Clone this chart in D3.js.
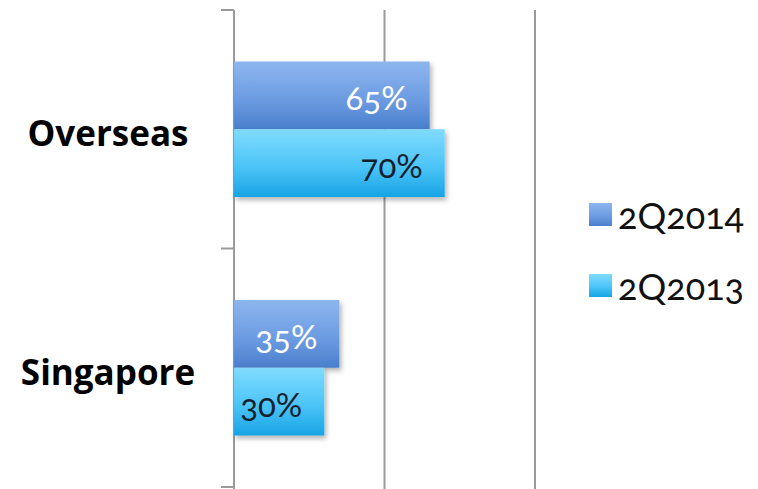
<!DOCTYPE html>
<html><head><meta charset="utf-8">
<script src="https://cdn.jsdelivr.net/npm/d3@7"></script>
<style>
body{margin:0;background:#fff;}
svg{display:block;}
</style></head>
<body><svg id="c" width="758" height="489"></svg>
<script>
const categories = ["Overseas", "Singapore"];
const seriesNames = ["2Q2014", "2Q2013"];
const values2Q2014 = [0.65, 0.35];
const values2Q2013 = [0.70, 0.30];
const valueLabels2Q2014 = ["65%", "35%"];
const valueLabels2Q2013 = ["70%", "30%"];
const xTicks = [0, 0.5, 1];

const svg = d3.select("#c");
const defs = svg.append("defs");
const grads = [
  {id:"g0", stops:["#8db6ee","#6d9ce2","#4a7fcd"]},
  {id:"g1", stops:["#80dbfd","#4cc4f7","#17a4e4"]}
];
grads.forEach(g=>{
  const lg = defs.append("linearGradient").attr("id",g.id).attr("x1",0).attr("y1",0).attr("x2",0).attr("y2",1);
  lg.append("stop").attr("offset","0%").attr("stop-color",g.stops[0]);
  lg.append("stop").attr("offset","55%").attr("stop-color",g.stops[1]);
  lg.append("stop").attr("offset","100%").attr("stop-color",g.stops[2]);
});
const f = defs.append("filter").attr("id","sh").attr("x","-10%").attr("y","-10%").attr("width","130%").attr("height","140%");
f.append("feDropShadow").attr("dx",2).attr("dy",3).attr("stdDeviation",2.5).attr("flood-color","#000").attr("flood-opacity",0.3);

const plotTop = 10, plotBottom = 487, left = 234, right = 535;
const x = d3.scaleLinear().domain([0,1]).range([left,right]);
const y0 = d3.scaleBand().domain(categories).range([plotTop, plotBottom]).padding(0);
const y1 = d3.scaleBand().domain(seriesNames).range([0, y0.step()]).paddingInner(0).paddingOuter(0.76);

// gridlines
svg.append("g").selectAll("line").data(xTicks).join("line")
  .attr("x1",d=>x(d)).attr("x2",d=>x(d)).attr("y1",plotTop).attr("y2",489)
  .attr("stroke","#9a9a9a").attr("stroke-width",2);
// category ticks on axis
svg.append("g").selectAll("line").data([plotTop, plotTop + y0.step(), plotBottom]).join("line")
  .attr("x1",221).attr("x2",left).attr("y1",d=>d).attr("y2",d=>d)
  .attr("stroke","#9a9a9a").attr("stroke-width",2);

const data = categories.map((c,i)=>({cat:c, vals:[
  {s:seriesNames[0], v:values2Q2014[i], lab:valueLabels2Q2014[i], k:0},
  {s:seriesNames[1], v:values2Q2013[i], lab:valueLabels2Q2013[i], k:1}
]}));

const groups = svg.append("g").selectAll("g").data(data).join("g")
  .attr("transform",d=>`translate(0,${y0(d.cat)})`);
groups.selectAll("rect").data(d=>d.vals).join("rect")
  .attr("x",left).attr("y",d=>y1(d.s)).attr("width",d=>x(d.v)-left).attr("height",y1.bandwidth())
  .attr("fill",d=>`url(#g${d.k})`).attr("filter","url(#sh)");
groups.selectAll("text").data(d=>d.vals).join("text")
  .attr("x",d=>x(d.v)-22).attr("y",d=>y1(d.s)+y1.bandwidth()/2+15)
  .attr("text-anchor","end")
  .attr("font-family","Lato, 'Open Sans', sans-serif")
  .attr("font-size",33)
  .style("font-variant-numeric","oldstyle-nums")
  .attr("fill",d=>d.k===0?"#ffffff":"#14202e")
  .text(d=>d.lab);

// category labels
svg.append("g").selectAll("text").data(categories).join("text")
  .attr("x",108).attr("y",d=>y0(d)+y0.bandwidth()/2+17)
  .attr("text-anchor","middle")
  .attr("font-family","'Open Sans', sans-serif").attr("font-weight","bold")
  .attr("font-size",35).attr("fill","#000")
  .text(d=>d);

// legend
const leg = svg.append("g").selectAll("g").data(seriesNames).join("g")
  .attr("transform",(d,i)=>`translate(589,${203+i*71})`);
leg.append("rect").attr("width",23).attr("height",23).attr("fill",(d,i)=>`url(#g${i})`);
leg.append("text").attr("x",29).attr("y",26)
  .attr("font-family","Lato, 'Open Sans', sans-serif").attr("font-size",36)
  .style("font-variant-numeric","oldstyle-nums")
  .attr("fill","#111").text(d=>d);
</script></body></html>
